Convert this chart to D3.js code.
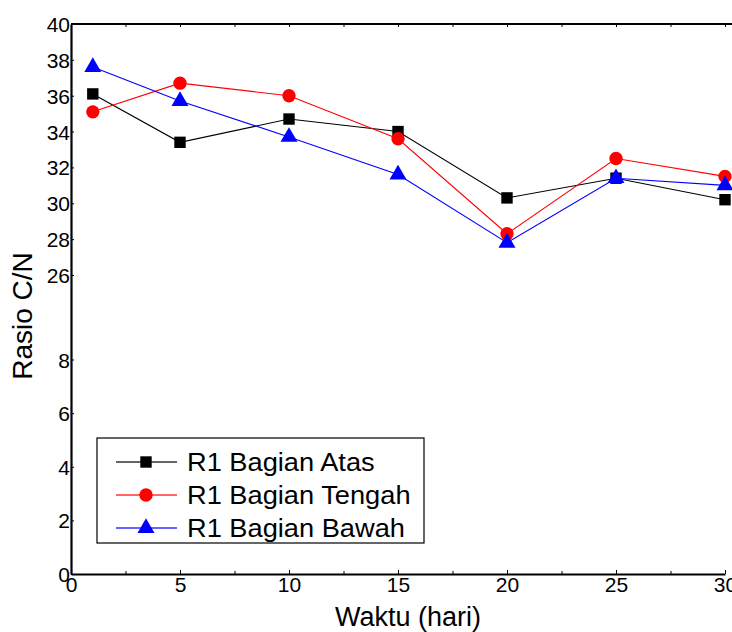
<!DOCTYPE html>
<html><head><meta charset="utf-8">
<script src="https://cdn.jsdelivr.net/npm/d3@7"></script>
<style>
html,body{margin:0;padding:0;background:#fff;}
svg text{font-family:"Liberation Sans",Arial,sans-serif;fill:#000;}
</style></head>
<body>
<svg id="c" width="732" height="632"></svg>
<script>
// ---- data ----
const days = [1, 5, 10, 15, 20, 25, 30];
const atas = [36.1, 33.4, 34.7, 34.0, 30.3, 31.4, 30.2];
const tengah = [35.1, 36.7, 36.0, 33.6, 28.3, 32.5, 31.5];
const bawah = [37.6, 35.7, 33.7, 31.6, 27.8, 31.4, 31.0];
const seriesNames = ["R1 Bagian Atas", "R1 Bagian Tengah", "R1 Bagian Bawah"];
const xTicks = [0, 5, 10, 15, 20, 25, 30];
const xMinorTicks = [0, 2.5, 5, 7.5, 10, 12.5, 15, 17.5, 20, 22.5, 25, 27.5, 30];
const yTicks = [0, 2, 4, 6, 8, 26, 28, 30, 32, 34, 36, 38, 40];
const xLabel = "Waktu (hari)";
const yLabel = "Rasio C/N";

const series = [
  {name: seriesNames[0], values: atas, color: "#000000", shape: d3.symbolSquare, size: 130},
  {name: seriesNames[1], values: tengah, color: "#ff0000", shape: d3.symbolCircle, size: 140},
  {name: seriesNames[2], values: bawah, color: "#0000ff", shape: d3.symbolTriangle, size: 125}
];

const svg = d3.select("#c");
const x = d3.scaleLinear().domain([0, 30]).range([71, 725]);
// broken (piecewise) y axis
const y = d3.scaleLinear().domain([0, 8, 26, 40]).range([574, 359.5, 275, 24]);

// lines
const line = d3.line().x((d, i) => x(days[i])).y(d => y(d));
series.forEach(s => {
  svg.append("path").datum(s.values)
    .attr("d", line).attr("fill", "none")
    .attr("stroke", s.color).attr("stroke-width", 1.1);
});
// markers
series.forEach(s => {
  svg.append("g").selectAll("path").data(s.values).join("path")
    .attr("transform", (d, i) => `translate(${x(days[i])},${y(d)})`)
    .attr("d", d3.symbol().type(s.shape).size(s.size))
    .attr("fill", s.color);
});

// axes
const gx = svg.append("g").attr("transform", "translate(0,574)")
  .call(d3.axisBottom(x).tickValues(xTicks).tickFormat(d3.format("d")).tickSizeInner(-4).tickSizeOuter(0).tickPadding(3));
gx.selectAll("text").attr("font-size", 21);
svg.append("g").attr("transform", "translate(0,574)")
  .call(d3.axisBottom(x).tickValues(xMinorTicks).tickFormat("").tickSizeInner(-3).tickSizeOuter(0))
  .select(".domain").remove();
const gt = svg.append("g").attr("transform", "translate(0,24)")
  .call(d3.axisTop(x).tickValues(xMinorTicks).tickFormat("").tickSizeInner(-3).tickSizeOuter(0));
gt.select(".domain").attr("d", "M71,0H732");

const gy = svg.append("g").attr("transform", "translate(71,0)")
  .call(d3.axisLeft(y).tickValues(yTicks).tickFormat(d3.format("d")).tickSizeInner(-3).tickSizeOuter(0).tickPadding(1));
gy.selectAll("text").attr("font-size", 21).attr("dy", "0.36em");

svg.selectAll(".domain").attr("stroke", "#000").attr("stroke-width", 2.2);
svg.selectAll(".tick line").attr("stroke", "#000").attr("stroke-width", 1);

// axis titles
svg.append("text").attr("x", 408).attr("y", 626).attr("text-anchor", "middle")
  .attr("font-size", 27).text(xLabel);
svg.append("text").attr("transform", "translate(32,316) rotate(-90)")
  .attr("text-anchor", "middle").attr("font-size", 28).text(yLabel);

// legend
const lg = svg.append("g");
lg.append("rect").attr("x", 97).attr("y", 438).attr("width", 327).attr("height", 105)
  .attr("fill", "#fff").attr("stroke", "#000").attr("stroke-width", 1.2);
const rowY = [462, 495, 528];
series.forEach((s, i) => {
  lg.append("line").attr("x1", 116).attr("x2", 177).attr("y1", rowY[i]).attr("y2", rowY[i])
    .attr("stroke", s.color).attr("stroke-width", 2).attr("stroke-opacity", 0.6);
  lg.append("path").attr("transform", `translate(146,${rowY[i]})`)
    .attr("d", d3.symbol().type(s.shape).size(s.size)).attr("fill", s.color);
  lg.append("text").attr("transform", `translate(187,${rowY[i] + 9}) scale(1.09,1)`)
    .attr("font-size", 25).text(s.name);
});
</script>
</body></html>
